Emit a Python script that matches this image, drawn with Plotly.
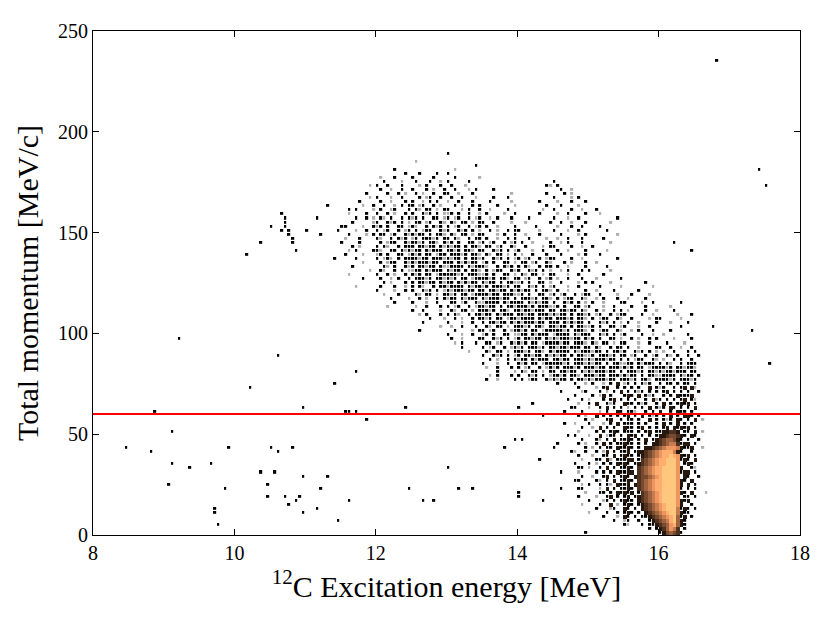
import numpy as np
import plotly.graph_objects as go

# histogram binning: excitation energy (MeV) x total momentum (MeV/c)
e_min, e_max, e_bin = 8.0, 18.0, 0.05
p_min, p_max, p_bin = 0.0, 250.0, 2.0
cut_momentum = 60.0

# cell codes: '.' empty, ':' single faint count, '1'..'9' log-count level

# diagonal band, 0.5 MeV blocks of 10 cells starting at 11.5 MeV ('_' = empty block)
band_e_start = 11.5
band_p = [188, 184, 182, 180, 178, 176, 174, 172, 170, 168, 166, 164, 162, 160,
          158, 156, 154, 152, 150, 148, 146, 144, 142, 140, 138, 136, 134, 132,
          130, 128, 126, 124, 122, 120, 118, 116, 114, 112, 110, 108, 106, 104,
          102, 100, 98, 96, 94, 92, 90, 88, 86, 84, 82, 80, 78, 76]
band_rows = [
    "_ _ _ 1.........",
    "_ _ .:........",
    "_ _ _ ........1.",
    "_ .....1.... _ ..:.......",
    "_ ........1. ..1....1.. 1.........",
    "_ .:...1.... 1.....1... ..1......:",
    "_ ..1....:.. .1...1..:. 1.....1... _ _ 1.........",
    "........:. 1..1...1.. ..:.1...1. .1...:.... _ ........1: .1........",
    "_ .1..:..1.. 1...1.:..1 ..1...:.1. ...1...... _ ..1..:....",
    ".......1.. ...1..1.:. .1.:..1..1 1..:...1.. ........:. ........1. ...1.:....",
    "........:. 1...:..1.. ..1.:1..1. .1..1...:. ...1...1.. _ 1....:.1..",
    ".....1.... .1..:...1. 1..:.1.1.. :..1...1.. ..1.....:. ......1... .:...1...1",
    "......:..1 ..1..:.1.1 1.:1..1.:. ..1.:..1.1 ....1....: ........1. ..1....:..",
    "....1....: .1..:1...1 .1:.11.:.1 1...:.1..1 ..:....1.. .......:.. 1....1..:. ..1.......",
    "..:....1.. 1..1.:..1. 1..1:1.1.: :1.1..1..: .1....:..1 ......1... .:..1....1 ...:......",
    ".......1.: .1:.1..1.1 :1.1..11.: 1.:1..1.:1 ..:.1...1. ...1...... 1...:..1.. ........1.",
    "...1.....: 1..1:1.1.: .11.:1..1: .1:.11.:.1 1..1....:. ..:......1 ..1..:...1 ......:...",
    ".1....:..1 :1.1..11.: 1:..1.1:1. 1.:1..1.:1 .1..:....1 .....1.... .:...1..1. ...1......",
    "....:..1.. 1.:1..1.:1 .1.:11..1: 1..1:1.1.: ..1.:..1.1 1.....:... 1...:..1.. .....1....",
    "..1....:.1 .11.:1..1: 1:11.1.11: .1:.11.:.1 1...:.1..1 ..:...1... ..1....:.1 ........:.",
    ".:...1.... 1:..1.1:1. :1.111:1.1 1.1:..1.11 .1..:..1.1 ...1....:. .:..1...1. ....1.....",
    "1....1.... .1.:11..1: 11:1.11:.1 :1.1..11.: 1.:1..1.:1 .1..:....1 ..:.1...1. ......:...",
    "...1.:.... 1.1:..1.11 1.11:11.1: 1:11.1.11: .11.:1..1: ..1....:.1 1....1..:. .1........",
    "..:......1 1:..11.1:1 :11.1:111. 11:1.11:.1 1..1:1.1.: 1...:..1.. .1..:....1 .....:....",
    ".1....:... :1.1..11.: 1:1.11.:11 .111:1.11: .1:.11.:.1 .:..1...1. ..1....:.1 ...1......",
    "....1..... 1.:1:.1.11 11:11.111: 1:11.1.11: 1..1:1.1.: 1.:1..1.:1 1....1..:. ........1.",
    "......:... .1.:11..1: 1:111:11.1 11.1:1:11. :1.1..11.: .11.:1..1: ...1.:...1 ..:.......",
    "...1...... ..1:.1..1: 1.11:11.1: :1111.1:11 1:..1.1:1. 1.1:..1.11 .1..:....1 .....1....",
    "........:. .1:..1.1.: :11.1:111. 1:11.1.11: .1.:11..1: 1..1:1.1.: ..:.1...1. 1.....:...",
    "..:....... 1..1.:..1. 1:1.11.:11 111:1.111: :1.1..11.: .1:.11.:.1 1...:..1.. ....1.....",
    "......1... .1..:.1..1 .111:1.11: 1:1.11.:11 11:1.11:.1 1.:1..1.:1 .:..1...1. ..:......1",
    "_ ..1.:...1. 1.11:11.1: 11.1:1:11. 1:11.1.11: :1.1..11.: ..1....:.1 .1....:... ......1...",
    "....:..... .1...1..:. 1.1:..1.11 :1111.1:11 :1.111:1.1 1..1:1.1.: 1...:..1.. ...1.....: ........:.",
    "_ 1....:..1. 1..1:1.1.: 1:111:11.1 1.11:11.1: 1:11.1.11: .1..:....1 ..:....1.. ....1.....",
    "_ ..:...1... .1:.11.:.1 1:1.11.:11 11:11.111: :1.1..11.: 1.:1..1.:1 1..1....:. ..1....:..",
    "_ ....1....: ..1.:..1.1 :11.1:111. 1:111:11.1 .111:1.11: .1.:11..1: ..:.1...1. .:....1...",
    "_ .....1.... 1...:..1.. .11.:1..1: :1111.1:11 11.1:1:11. 1..1:1.1.: .1..:....1 1....:..1. ......1...",
    "_ ...:...... .:..1...1. 1.:1..1.:1 1:11.1.11: 111:1.111: :1.1..11.: 1...:..1.. ..1...1... ...:......",
    "_ _ 1..1....:. .1:.11.:.1 11:1.11:.1 1:11:111.1 1.11:11.1: ..1.:..1.1 .:....1..: ....1.....",
    "_ _ ..:.1...1. 1.1:..1.11 :11.1:111. 11:11.111: 1:11.1.11: 1.:1..1.:1 1....1..:. .....:...1",
    "_ _ .....1...: ..1.:..1.1 1:1.11.:11 :1111.1:11 .111:1.11: .1.:11..1: ..1....:.1 1.....:...",
    "_ _ ...1...... 1...:..1.. 1.11:11.1: 1:111:11.1 11.1:1:11. 1..1:1.1.: .1..:....1 ...:....1.",
    "_ _ ........:. .:..1...1. .1:.11.:.1 11:1.11:.1 1:11.1.11: :1.1..11.: 1...:..1.. ......1...",
    "_ _ ..1....... ..1....:.1 1.:1..1.:1 1:1.11.:11 111:1.111: .1.:11..1: ..:.1...1. ...1......",
    "_ _ _ 1...:..1.. :1.1..11.: :11.1:111. :1111.1:11 1..1:1.1.: 1....1..:. .:......1.",
    "_ _ _ .1..:....1 1..1:1.1.: 1.11:11.1: 1:111:11.1 :1.1..11.: ..1.:..1.1 ....:....1",
    "_ _ _ ..:.1...1. .11.:1..1: 1:1.11.:11 11:11.111: .1:.11.:.1 1...:..1.. ..1....:..",
    "_ _ _ ....1..... 1.:1..1.:1 :1.111:1.1 1:11:111.1 1.1:..1.11 .1..:....1 1..1..:..1",
    "_ _ _ ......:... .1:.11.:.1 11:1.11:.1 :1111.1:11 1:11.1.11: 1..1:1.1.: .:..1...1. 1.",
    "_ _ _ _ 1..1:1.1.: 1.11:11.1: 1:11.1.11: :1.111:1.1 1.:1..1.:1 ..1:.1..1. .1",
    "_ _ _ _ ..1.:..1.1 :11.1:111. 11:11.111: 1:111:11.1 .1.:11..1: .:..1.1..1 ..",
    "_ _ _ _ 1...:..1.. 1:1.11.:11 111:1.111: 1:11.1.11: :11.1:111. 1.1:..1.11 1.",
    "_ _ _ _ .:..1...1. 1.:1..1.:1 :1.111:1.1 11:11.111: 1:1.11.:11 11:1.11:11 :.",
    "_ _ _ _ ....1....: .1:.11.:.1 1.11:11.1: 1:111:11.1 .111:1.11: 1:11:111.1 1.",
    "_ _ _ _ ..:.1...1. 1..1:1.1.: 11:1.11:.1 11:11.111: 1:11.1.11: :1111.1:11 .1",
    "_ _ _ _ .1..:....1 .1.:11..1: 1:11.1.11: 1:111:11.1 11:1.11:.1 111:1.111: 1.",
]

# dense peak near 16.1 MeV, cells from 14.8 MeV: left tail / copper core / right edge
blob_e_start = 14.8
blob_p = [74, 72, 70, 68, 66, 64, 62, 60, 58, 56, 54, 52, 50, 48, 46, 44, 42, 40, 38,
          36, 34, 32, 30, 28, 26, 24, 22, 20, 18, 16, 14, 12, 10, 8, 6, 4, 2, 0]
blob_left = [
    "1..:.1..:.1.2.:1", ".1....:.12..1.1.", "..:1...1.:.1.2.1", "1....1.:2.1...12",
    "..1.:...1.12.1.1", ".:..1.2..1:1..21", "1...:..1.2.1.1.:", "..1....:.1..21.1",
    ".1.:..2.1.1.1.12", "...1.:...12..1.1", ":...1...:.1.2.11", "..1..:.2.1.1..21",
    ".:....1.1.121.11", "1...:..2.:11.1.2", "..1...1:.1.2.112", ".1.:..1.2.1.1121",
    "...1.:.1.11.2112", ":..1..1.:2.1.112", ".1...:..11.2.121", "..:...11.2:.1112",
    "1...1.:.1.1.2121", "..1.:..1.2.1.112", ".:....1.1.1.2112", "..1..:..12.1.121",
    "1.....1:.1.2.112", "..:.1..1.1:.2112", ".1.....:.2.1.112", "...:...11.1.2121",
    ".1....:..12.1.12", "....1...:1.1.121", "..:....1..2.:.12", "......1...:1..21",
    "....:....1..1.12", "........1...:.21", "...........1..:1", "..............1:",
    "................", "................",
]
blob_core = [
    ".1.1:1..1.11.1.1", "1.1..2.1:1..1.12", ".1:1.1.1.12.1.1.", "1.2.1:1..1.1.211",
    ".1..1.2:1.1.1.12", "1.1:1..1.2.1.121", ".1.1.2.1:1.21.1.", "1:..1.1.2..1.211",
    ".1.2.1:1.1.2.1.2", "1.1..2.1.1:1.21.", "1.1.1..1.2.1.2.1", "1.12.1.1.12.2121",
    "1.1.12.1122332.1", "12.1.1.122344321", "1.1.2.123455421.", "1.1.1.2234566312",
    "1.1.223456777621", ".12234567888621.", "1.12345678898721", "2.13456788999712",
    ".1234567889997.1", "1.3456788999972.", "2.34567889999712", ".2344567899997.2",
    "1.34567889999721", ".23456788999972.", "1.3456788999971.", "2.13456789999721",
    ".1234567899997.1", "1.23456789999721", "1.1234567899972.", ".1.2345678999612",
    "1.1.234567899621", ".1.1123456789512", "..1..12345689521", "...1.11234578521",
    ".....1.1235763.1", "........1245431.",
]
blob_right = [
    "1.1...", ".2:...", "1..1..", "12....", ".1:...", "2.1...", "1.2...", ".1....",
    "21.1..", "1.2.:.", ".1....", "2.1...", "1.2.:.", ".21...", "1..1..", "2.1...",
    "12..:.", ".1....", "2.1...", "1.2...", "21....", ".1:...", "2.1...", "1..1..",
    ".2....", "2.1...", "1.1...", ".2...:", "1.1...", "2.....", ".1....", "1.1...",
    "1.....", ".1....", "......", "......", "......", "......",
]

# isolated counts away from the band and the peak
stray_e = [16.83, 17.43, 17.52, 17.32, 17.58, 16.77, 16.23, 16.49,
           10.69, 10.72, 10.74, 10.70, 10.76, 10.80, 10.82, 10.88, 10.69, 10.78,
           11.30, 11.64, 11.18, 11.20, 11.04, 10.53, 10.35, 10.18, 11.40, 11.71,
           11.45, 11.52, 11.73, 9.24, 10.60, 11.42, 11.73, 10.22, 11.60,
           8.49, 8.87, 9.10, 9.13, 8.83, 9.37, 9.68, 9.09, 9.86, 9.71, 9.71, 9.75,
           9.94, 10.36, 10.49, 10.58, 10.49, 10.73, 10.75, 10.86, 10.90, 10.96,
           11.20, 11.30, 11.45, 11.16, 11.64, 10.96, 10.80, 10.63, 10.52, 10.97,
           11.58, 11.71, 11.88, 12.44, 12.46, 12.67, 12.82, 13.04, 13.19, 13.38,
           13.82, 13.98, 14.06, 14.02, 14.00, 14.34, 14.36, 14.50, 14.55, 14.20,
           14.36, 14.66, 14.02, 14.62, 14.89, 14.89, 14.90, 14.96,
           14.60, 14.70, 14.55, 14.75, 14.65, 14.70, 14.78, 14.60]
stray_p = [235, 180, 172, 101, 84, 103, 145, 140,
           159, 157, 155, 152, 150, 147, 144, 141, 151, 149,
           163, 161.6, 156.6, 148, 150.7, 152, 145.8, 139, 136.6, 140,
           150, 152, 156.6, 96, 89, 74, 80, 73, 61.6,
           43.8, 60, 51, 35.5, 40, 32.5, 34.5, 24, 23.6, 11.5, 13, 4.4,
           43, 31, 24, 31.6, 19.7, 18.8, 14.8, 17, 19, 28.5,
           22.6, 29, 7.9, 12, 17, 11.5, 43.8, 41, 43.5, 63.6,
           60.6, 61, 56.7, 63, 22, 17, 17.6, 32.5, 23.6, 23.6,
           43.5, 46.8, 46.8, 20.2, 18, 36, 17, 42, 44.3, 64,
           59, 60, 63.6, 23.7, 33, 27.6, 23.7, 1.5,
           70, 66, 74, 62, 55, 48, 40, 30]

n_e = int(round((e_max - e_min) / e_bin))
n_p = int(round((p_max - p_min) / p_bin))
counts = np.full((n_p, n_e), np.nan)


def put(e, p, ch):
    if ch == ".":
        return
    i = int(np.floor((e - e_min) / e_bin + 1e-6))
    j = int(np.floor((p - p_min) / p_bin + 1e-6))
    if 0 <= i < n_e and 0 <= j < n_p:
        v = 0.5 if ch == ":" else float(ch)
        if np.isnan(counts[j, i]) or v > counts[j, i]:
            counts[j, i] = v


for p, row in zip(band_p, band_rows):
    cells = "".join("." * 10 if t == "_" else t for t in row.split())
    for k, ch in enumerate(cells):
        put(band_e_start + (k + 0.5) * e_bin, p + 0.5 * p_bin, ch)

for p, a, b, c in zip(blob_p, blob_left, blob_core, blob_right):
    cells = a.ljust(16, ".")[:16] + b.ljust(16, ".")[:16] + c.ljust(6, ".")[:6]
    for k, ch in enumerate(cells):
        put(blob_e_start + (k + 0.5) * e_bin, p + 0.5 * p_bin, ch)

for e, p in zip(stray_e, stray_p):
    put(e, p, "1")

x_centres = e_min + e_bin * (np.arange(n_e) + 0.5)
y_centres = p_min + p_bin * (np.arange(n_p) + 0.5)

# single counts are drawn as small dots, the populated peak as a smooth image
sparse = [[None if np.isnan(v) or v >= 1.5 else v for v in row] for row in counts]
peak = [[None if np.isnan(v) or v < 1.5 else v for v in row] for row in counts]

# grey for the faint single counts, then matplotlib "copper" over levels 1..9
z_lo, z_hi = 0.5, 9.0
copper = [[0.0, "rgb(175,175,175)"], [0.03, "rgb(175,175,175)"]]
for lev in range(1, 10):
    x = (lev - 1) / 8.0
    r, g, b = min(1.0, 1.25 * x), 0.7812 * x, 0.4975 * x
    copper.append([(lev - z_lo) / (z_hi - z_lo),
                   f"rgb({int(r * 255)},{int(g * 255)},{int(b * 255)})"])

fig = go.Figure()
fig.add_trace(go.Heatmap(x=x_centres, y=y_centres, z=sparse, colorscale=copper,
                         zmin=z_lo, zmax=z_hi, showscale=False, hoverongaps=False,
                         xgap=0.8, ygap=1.2))
fig.add_trace(go.Heatmap(x=x_centres, y=y_centres, z=peak, colorscale=copper,
                         zmin=z_lo, zmax=z_hi, showscale=False, hoverongaps=False))
fig.add_trace(go.Scatter(x=[e_min, e_max], y=[cut_momentum, cut_momentum], mode="lines",
                         line=dict(color="rgb(255,0,0)", width=2), showlegend=False))

font = "Liberation Serif, Times New Roman, serif"
axis_style = dict(showline=True, linecolor="black", linewidth=1, mirror="ticks",
                  ticks="inside", ticklen=6, tickcolor="black", showgrid=False,
                  zeroline=False, tickfont=dict(family=font, size=20, color="black"))
fig.update_xaxes(range=[e_min, e_max], tick0=8, dtick=2,
                 title=dict(text="<sup>12</sup>C Excitation energy [MeV]",
                            font=dict(family=font, size=30, color="black"), standoff=12),
                 **axis_style)
fig.update_yaxes(range=[p_min, p_max], tick0=0, dtick=50,
                 title=dict(text="Total momentum [MeV/c]",
                            font=dict(family=font, size=30, color="black"), standoff=10),
                 **axis_style)
fig.update_layout(width=830, height=623, plot_bgcolor="white", paper_bgcolor="white",
                  margin=dict(l=85, r=38, t=20, b=96), showlegend=False)

fig.write_html("out.html")
